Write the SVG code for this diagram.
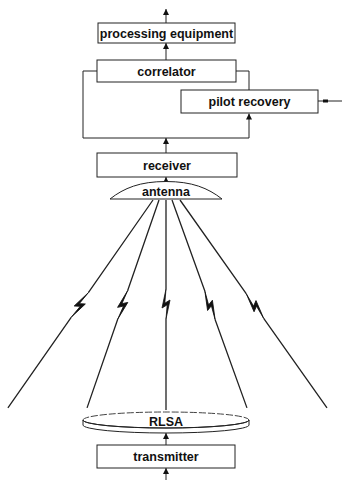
<svg xmlns="http://www.w3.org/2000/svg" width="342" height="480" viewBox="0 0 342 480">
<style>
.box{fill:#fff;stroke:#222;stroke-width:1}
.lbl{font-family:"Liberation Sans",Arial,sans-serif;font-weight:bold;font-size:12.5px;fill:#111;text-anchor:middle}
.wire{fill:none;stroke:#222;stroke-width:1}
.ray{fill:none;stroke:#222;stroke-width:1.3}
.bolt{fill:#111;stroke:#111;stroke-width:0.8;stroke-linejoin:round}
</style>
<defs>
<marker id="ah" viewBox="0 0 8 8" refX="8" refY="4" markerWidth="6" markerHeight="6" markerUnits="userSpaceOnUse" orient="auto">
<path d="M0,0 L8,4 L0,8 Z" fill="#111"/>
</marker>
<polygon id="boltShape" points="0,-15 -4,4 1.2,0.8 0,15 4,-4 -1.2,-0.8"/>
</defs>

<g id="connectors">
<line class="wire" x1="166" y1="23" x2="166" y2="9" marker-end="url(#ah)"/>
<line class="wire" x1="166" y1="60" x2="166" y2="43" marker-end="url(#ah)"/>
<polyline class="wire" points="97,71 83,71 83,138 249,138 249,113.5" marker-end="url(#ah)"/>
<polyline class="wire" points="236,71 249,71 249,90"/>
<line class="wire" x1="166" y1="153" x2="166" y2="138" marker-end="url(#ah)"/>
<line class="wire" x1="342" y1="101" x2="318" y2="101"/>
<rect x="323" y="99.5" width="5" height="3" fill="#111"/>
<line class="wire" x1="166" y1="182" x2="166" y2="177" marker-end="url(#ah)"/>
<line class="wire" x1="166" y1="445" x2="166" y2="433" marker-end="url(#ah)"/>
<line class="wire" x1="166" y1="480" x2="166" y2="468" marker-end="url(#ah)"/>
</g>

<g id="rays">
<g transform="translate(153,200) rotate(34.9)">
<path class="ray" d="M0,0 V113 M0,143 V253.6"/>
<use href="#boltShape" class="bolt" transform="translate(0,128)"/>
</g>
<g transform="translate(159,200) rotate(19.09)">
<path class="ray" d="M0,0 V96 M0,126 V220"/>
<use href="#boltShape" class="bolt" transform="translate(0,111)"/>
</g>
<g transform="translate(166,200)">
<path class="ray" d="M0,0 V89 M0,119 V210"/>
<use href="#boltShape" class="bolt" transform="translate(0,104)"/>
</g>
<g transform="translate(172,200) rotate(-19.83)">
<path class="ray" d="M0,0 V97 M0,127 V221"/>
<use href="#boltShape" class="bolt" transform="translate(0,112)"/>
</g>
<g transform="translate(180,200) rotate(-35.25)">
<path class="ray" d="M0,0 V115 M0,145 V254.7"/>
<use href="#boltShape" class="bolt" transform="translate(0,130)"/>
</g>
</g>

<g id="processing-equipment">
<rect class="box" x="98" y="23" width="137" height="20"/>
<text class="lbl" x="166.5" y="37.5">processing equipment</text>
</g>
<g id="correlator">
<rect class="box" x="97" y="60" width="139" height="22"/>
<text class="lbl" x="166.5" y="75.5">correlator</text>
</g>
<g id="pilot-recovery">
<rect class="box" x="181" y="90" width="137" height="23"/>
<text class="lbl" x="249.5" y="105.5">pilot recovery</text>
</g>
<g id="receiver">
<rect class="box" x="97" y="153" width="140" height="24"/>
<text class="lbl" x="167" y="169.5">receiver</text>
</g>
<g id="antenna">
<path class="box" d="M110,199 C124,188 140,181.5 166,181.5 C192,181.5 208,188 222,199 Z"/>
<text class="lbl" x="166" y="196">antenna</text>
</g>
<g id="rlsa">
<path class="box" d="M83,420 A83,8 0 0 0 249,420 V425 A83,8 0 0 1 83,425 Z"/>
<path fill="none" stroke="#222" stroke-width="1" d="M83,420 A83,8 0 0 0 249,420"/>
<path fill="none" stroke="#444" stroke-width="1" stroke-dasharray="7,2" d="M83,420 A83,8 0 0 1 249,420"/>
<text class="lbl" x="166" y="426">RLSA</text>
</g>
<g id="transmitter">
<rect class="box" x="97" y="445" width="138" height="23"/>
<text class="lbl" x="166" y="461">transmitter</text>
</g>
</svg>
